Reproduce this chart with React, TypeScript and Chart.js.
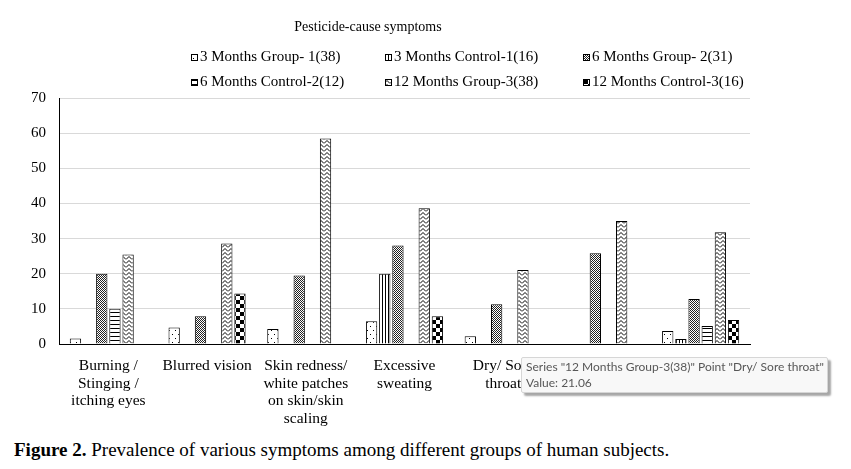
import React, { useEffect, useRef } from "react";
import { Chart, registerables } from "chart.js";

Chart.register(...registerables);

const categories: string[][] = [
  ["Burning /", "Stinging /", "itching eyes"],
  ["Blurred vision"],
  ["Skin redness/", "white patches", "on skin/skin", "scaling"],
  ["Excessive", "sweating"],
  ["Dry/ Sore", "throat"],
  ["Headache"],
  ["Nausea"],
];

const seriesNames = [
  "3 Months Group- 1(38)",
  "3 Months Control-1(16)",
  "6 Months Group- 2(31)",
  "6 Months Control-2(12)",
  "12 Months Group-3(38)",
  "12 Months Control-3(16)",
];

const months3Group1 = [1.6, 4.7, 4.3, 6.5, 2.2, 0, 3.7];
const months3Control1 = [0, 0, 0, 20, 0, 0, 1.4];
const months6Group2 = [20, 7.9, 19.5, 28, 11.3, 25.8, 12.8];
const months6Control2 = [10, 0, 0, 0, 0, 0, 5.1];
const months12Group3 = [25.5, 28.6, 58.5, 38.6, 21.06, 35, 31.8];
const months12Control3 = [0, 14.4, 0, 7.9, 0, 0, 6.8];

const yTicks = [0, 10, 20, 30, 40, 50, 60, 70];

const seriesValues = [
  months3Group1,
  months3Control1,
  months6Group2,
  months6Control2,
  months12Group3,
  months12Control3,
];

function makePattern(kind: number): CanvasPattern | string {
  const c = document.createElement("canvas");
  const sizes: [number, number][] = [
    [6, 8],
    [3, 1],
    [2, 2],
    [1, 4],
    [6, 4],
    [8, 8],
  ];
  const [w, h] = sizes[kind];
  c.width = w;
  c.height = h;
  const ctx = c.getContext("2d")!;
  ctx.fillStyle = "#fff";
  ctx.fillRect(0, 0, w, h);
  ctx.fillStyle = "#000";
  ctx.strokeStyle = "#000";
  if (kind === 0) {
    ctx.fillRect(1, 2, 1, 1);
    ctx.fillRect(4, 6, 1, 1);
  } else if (kind === 1) {
    ctx.fillRect(1, 0, 1, 1);
  } else if (kind === 2) {
    ctx.fillStyle = "#222";
    ctx.fillRect(0, 0, 1, 1);
    ctx.fillRect(1, 1, 1, 1);
  } else if (kind === 3) {
    ctx.fillRect(0, 0, 1, 1);
  } else if (kind === 4) {
    ctx.lineWidth = 1;
    ctx.beginPath();
    ctx.moveTo(0, 3.5);
    ctx.lineTo(3, 0.5);
    ctx.lineTo(6, 3.5);
    ctx.stroke();
  } else if (kind === 5) {
    ctx.fillRect(0, 0, 4, 4);
    ctx.fillRect(4, 4, 4, 4);
  }
  const p = ctx.createPattern(c, "repeat");
  return p || "#888";
}

const FONT = "'Liberation Serif', 'Times New Roman', serif";

export default function App() {
  const ref = useRef<HTMLCanvasElement | null>(null);

  useEffect(() => {
    const canvas = ref.current!;
    const patterns = seriesNames.map((_, i) => makePattern(i));

    const headerPlugin = {
      id: "header",
      afterDraw(chart: any) {
        const ctx = chart.ctx as CanvasRenderingContext2D;
        ctx.save();
        ctx.fillStyle = "#000";
        ctx.font = `14px ${FONT}`;
        ctx.textAlign = "center";
        ctx.textBaseline = "middle";
        ctx.fillText("Pesticide-cause symptoms", 368, 27);
        const cols = [191, 385, 583];
        const rows = [57, 82];
        ctx.textAlign = "left";
        ctx.font = `15px ${FONT}`;
        seriesNames.forEach((name, i) => {
          const x = cols[i % 3];
          const y = rows[Math.floor(i / 3)];
          ctx.fillStyle = patterns[i] as any;
          ctx.fillRect(x, y - 3, 6, 6);
          ctx.strokeStyle = "#000";
          ctx.lineWidth = 1;
          ctx.strokeRect(x + 0.5, y - 3 + 0.5, 6, 6);
          ctx.fillStyle = "#000";
          ctx.fillText(name, x + 9, y + 0.5);
        });
        ctx.restore();
      },
    };

    const chart = new Chart(canvas, {
      type: "bar",
      data: {
        labels: categories as any,
        datasets: seriesNames.map((name, i) => ({
          label: name,
          data: seriesValues[i],
          backgroundColor: patterns[i] as any,
          borderColor: "#000",
          borderWidth: 1,
          categoryPercentage: 0.8,
          barPercentage: 0.86,
        })),
      },
      options: {
        responsive: false,
        animation: false,
        layout: { padding: { left: 0, right: 101, top: 98, bottom: 0 } },
        plugins: {
          legend: { display: false },
          title: { display: false },
          tooltip: { enabled: false },
        },
        scales: {
          x: {
            grid: { display: false, drawTicks: false },
            border: { display: true, color: "#000", width: 1 },
            ticks: {
              color: "#000",
              font: { family: FONT, size: 15.5, lineHeight: 1.14 },
              maxRotation: 0,
              minRotation: 0,
              autoSkip: false,
              padding: 13,
            },
            afterFit(scale: any) {
              scale.height = 430 - 344;
            },
          },
          y: {
            min: 0,
            max: 70,
            afterBuildTicks(scale: any) {
              scale.ticks = yTicks.map((v) => ({ value: v }));
            },
            grid: { color: "#d9d9d9", lineWidth: 1, drawTicks: false },
            border: { display: true, color: "#000", width: 1 },
            ticks: {
              color: "#000",
              font: { family: FONT, size: 15 },
              padding: 13,
            },
            afterFit(scale: any) {
              scale.width = 59;
            },
          },
        },
      },
      plugins: [headerPlugin],
    });
    return () => chart.destroy();
  }, []);

  return (
    <div style={{ position: "absolute", left: 0, top: 0, width: 851, height: 469, background: "#fff" }}>
      <canvas ref={ref} width={851} height={430} style={{ display: "block", width: 851, height: 430 }} />
      <div
        style={{
          position: "absolute",
          left: 14,
          top: 439,
          fontFamily: FONT,
          fontSize: 19,
          lineHeight: "22px",
          color: "#000",
          whiteSpace: "nowrap",
        }}
      >
        <b>Figure 2.</b> Prevalence of various symptoms among different groups of human subjects.
      </div>
      <div
        style={{
          position: "absolute",
          left: 521,
          top: 357,
          width: 297,
          height: 32,
          padding: "1px 4px",
          background: "#f8f8f8",
          border: "1px solid #d6d6d6",
          borderRadius: 2,
          boxShadow: "3px 3px 2px rgba(0,0,0,0.35)",
          fontFamily: "Lato, 'Noto Sans', sans-serif",
          fontSize: 12,
          lineHeight: "16px",
          color: "#575757",
          whiteSpace: "nowrap",
        }}
      >
        <div>Series "12 Months Group-3(38)" Point "Dry/ Sore throat"</div>
        <div>Value: 21.06</div>
      </div>
    </div>
  );
}
